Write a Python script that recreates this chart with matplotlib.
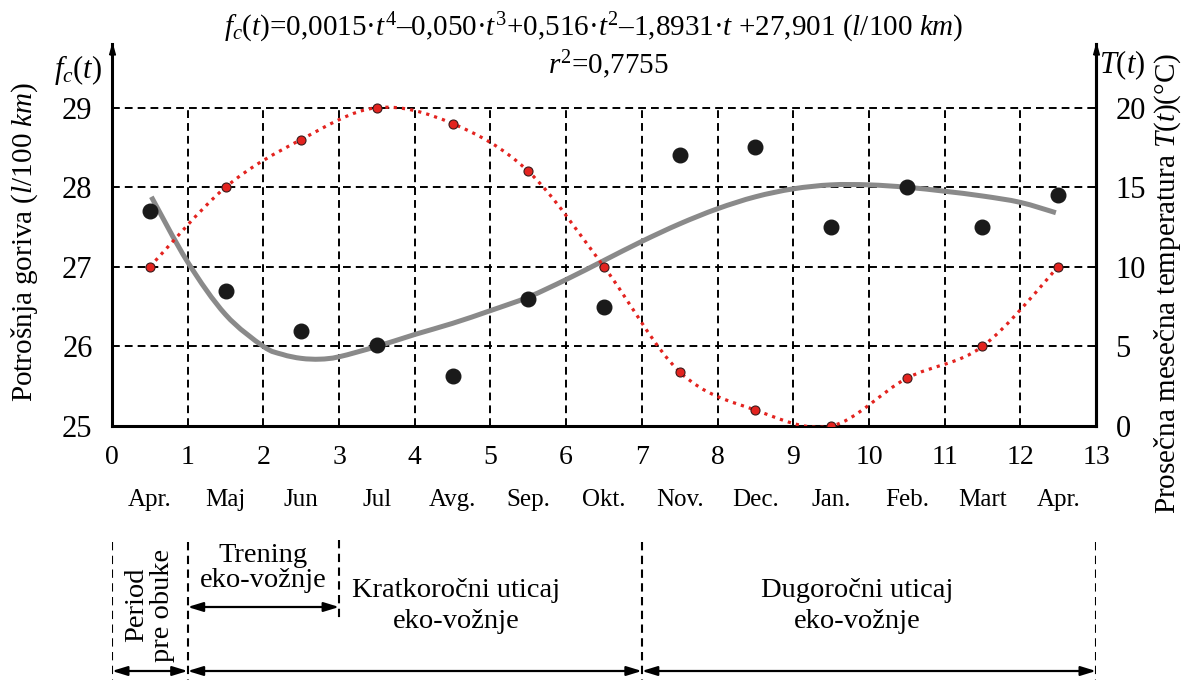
import numpy as np
import matplotlib
matplotlib.use("Agg")
import matplotlib.pyplot as plt
from matplotlib.path import Path
from matplotlib.patches import PathPatch, FancyArrowPatch

plt.rcParams['font.family'] = 'serif'
plt.rcParams['font.serif'] = ['Liberation Serif', 'DejaVu Serif']
plt.rcParams['mathtext.fontset'] = 'custom'
plt.rcParams['mathtext.rm'] = 'Liberation Serif'
plt.rcParams['mathtext.it'] = 'Liberation Serif:italic'

# monthly values (t = month index, mid-month)
months = ['Apr.', 'Maj', 'Jun', 'Jul', 'Avg.', 'Sep.', 'Okt.', 'Nov.', 'Dec.',
          'Jan.', 'Feb.', 'Mart', 'Apr.']
t_mid = [0.5, 1.5, 2.5, 3.5, 4.5, 5.5, 6.5, 7.5, 8.5, 9.5, 10.5, 11.5, 12.5]
fuel = [27.7, 26.7, 26.2, 26.02, 25.63, 26.6, 26.5, 28.4, 28.5, 27.5, 28.0, 27.5, 27.9]
temp = [10, 15, 18, 20, 19, 16, 10, 3.4, 1.0, 0, 3.0, 5, 10]

# fitted consumption curve f_c(t)
fit_t = [0.52, 1.0, 1.5, 2.0, 2.25, 2.5, 2.75, 3.0, 3.5, 4.0, 4.5, 5.0, 5.5, 6.0,
         6.5, 7.0, 7.5, 8.0, 8.5, 9.0, 9.5, 10.0, 10.5, 11.0, 11.5, 12.0, 12.47]
fit_fc = [27.88, 27.06, 26.40, 26.0, 25.9, 25.85, 25.84, 25.87, 26.0, 26.15, 26.29,
          26.45, 26.62, 26.84, 27.08, 27.32, 27.54, 27.73, 27.88, 27.98, 28.03,
          28.03, 28.0, 27.95, 27.89, 27.81, 27.68]

W, H = 1188, 680


def smooth_path(xs, ys):
    # cubic bezier segments through the points (catmull-rom tangents)
    pts = np.column_stack([xs, ys]).astype(float)
    n = len(pts)
    verts = [pts[0]]
    codes = [Path.MOVETO]
    for i in range(n - 1):
        p0 = pts[i - 1] if i > 0 else pts[i]
        p1 = pts[i]
        p2 = pts[i + 1]
        p3 = pts[i + 2] if i + 2 < n else pts[i + 1]
        verts += [p1 + (p2 - p0) / 6, p2 - (p3 - p1) / 6, p2]
        codes += [Path.CURVE4] * 3
    return Path(verts, codes)


fig = plt.figure(figsize=(W / 100, H / 100), dpi=100)
ax = fig.add_axes([112 / W, 1 - 426 / H, 984 / W, (426 - 44) / H])
ax.set_xlim(0, 13)
ax.set_ylim(25, 29.8)
ax.spines['top'].set_visible(False)
for s in ['left', 'bottom', 'right']:
    ax.spines[s].set_linewidth(2.2)

dash = (0, (4, 2.6))
ax.hlines([26, 27, 28, 29], 0, 13, colors='k', linestyles=dash, lw=1.4, zorder=1)
ax.vlines(range(1, 13), 25, 29, colors='k', linestyles=dash, lw=1.4, zorder=1)

ax.set_xticks(range(14))
ax.set_yticks([25, 26, 27, 28, 29])
ax.tick_params(axis='x', length=0, pad=14, labelsize=20)
ax.tick_params(axis='y', length=0, pad=14, labelsize=22)

for t, m in zip(t_mid, months):
    ax.text(t, -0.194, m, transform=ax.get_xaxis_transform(), ha='center',
            va='center', fontsize=18)

ax.add_patch(PathPatch(smooth_path(fit_t, fit_fc), fill=False, ec='#8a8a8a',
                       lw=3.6, capstyle='butt', zorder=3))
ax.plot(t_mid, fuel, 'o', color='#1a1a1a', ms=10.5, zorder=4)

ax2 = ax.twinx()
ax2.set_ylim(0, 24)
ax2.set_yticks([0, 5, 10, 15, 20])
ax2.tick_params(axis='y', length=0, pad=14, labelsize=22)
ax2.spines['top'].set_visible(False)
ax2.spines['right'].set_linewidth(2.2)
ax2.add_patch(PathPatch(smooth_path(t_mid, temp), fill=False, ec='#e3231f',
                        lw=2.3, ls=(0, (1, 1.6)), zorder=3))
ax2.plot(t_mid, temp, 'o', mfc='#e3231f', mec='#3a1a1a', mew=0.8, ms=6.5, zorder=4)

# arrow heads on both vertical axes
head = [(-0.5, -1.8), (0, 0), (0.5, -1.8), (-0.5, -1.8)]
for xa in (0, 1):
    ax2.plot([xa], [1], marker=head, ms=15, color='k', transform=ax2.transAxes,
             clip_on=False, zorder=6)

# titles and axis names
fig.text(594 / W, 1 - 28 / H,
         r'$f_c(t)$=0,0015·$t^4$–0,050·$t^3$+0,516·$t^2$–1,8931·$t$ +27,901 ($l$/100 $km$)',
         ha='center', va='center', fontsize=21)
fig.text(608 / W, 1 - 65 / H, r'$r^2$=0,7755', ha='center', va='center', fontsize=21)
fig.text(78 / W, 1 - 70 / H, r'$f_c(t)$', ha='center', va='center', fontsize=22)
fig.text(1122 / W, 1 - 65 / H, r'$T(t)$', ha='center', va='center', fontsize=22)
fig.text(25 / W, 1 - 242 / H, r'Potrošnja goriva ($l$/100 $km$)', rotation=90,
         ha='center', va='center', fontsize=21)
fig.text(1168 / W, 1 - 283 / H, r'Prosečna mesečna temperatura $T(t)$(°C)',
         rotation=90, ha='center', va='center', fontsize=21)

# study periods below the chart
axb = fig.add_axes([112 / W, 0, 984 / W, 150 / H])
axb.set_xlim(0, 13)
axb.set_ylim(680, 530)
axb.axis('off')
axb.vlines([0, 1, 7, 13], 542, 680, colors='k', linestyles=dash, lw=1.5)
axb.vlines(3, 540, 622, colors='k', linestyles=dash, lw=1.5)
for x0, x1, y in [(0, 1, 671), (1, 7, 671), (7, 13, 671), (1, 3, 607)]:
    axb.add_patch(FancyArrowPatch((x0, y), (x1, y),
                                  arrowstyle='<|-|>,head_length=0.65,head_width=0.2',
                                  mutation_scale=14, lw=1.6, color='k',
                                  shrinkA=0, shrinkB=0))
axb.text(0.5, 605, 'Period\npre obuke', rotation=90, ha='center', va='center',
         fontsize=20.5, linespacing=1.05)
axb.text(2, 568, 'Trening\neko-vožnje', ha='center', va='center',
         fontsize=20.5, linespacing=1.05)
axb.text(4.55, 606, 'Kratkoročni uticaj\neko-vožnje', ha='center', va='center',
         fontsize=20.5, linespacing=1.3)
axb.text(9.85, 606, 'Dugoročni uticaj\neko-vožnje', ha='center', va='center',
         fontsize=20.5, linespacing=1.3)

fig.savefig('out.png', dpi=100)
